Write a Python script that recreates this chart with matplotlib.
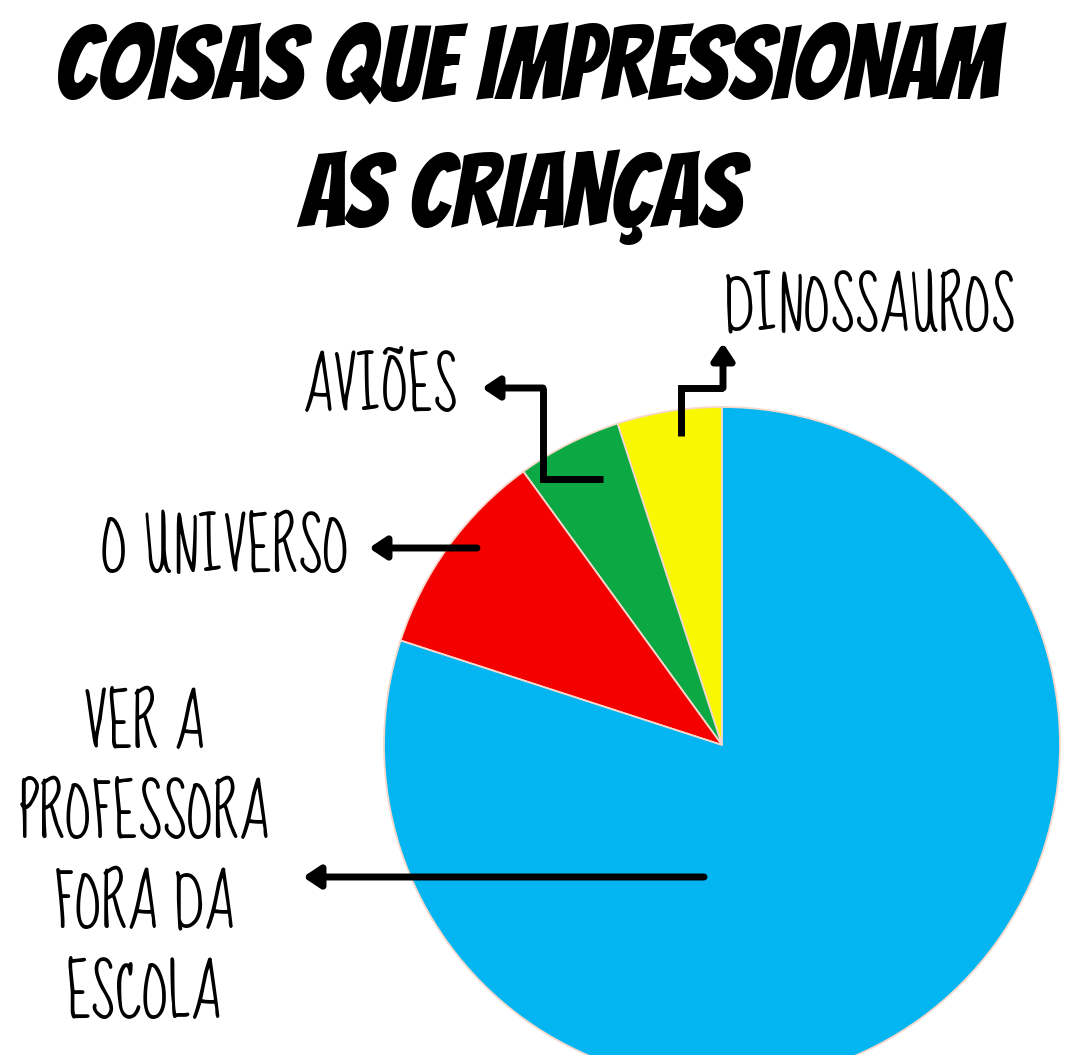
import matplotlib
matplotlib.use("Agg")
import matplotlib.pyplot as plt

# ---- data ----
title_lines = ["COISAS QUE IMPRESSIONAM", "AS CRIANÇAS"]
categories = ["DINOSSAUROS", "AVIÕES", "O UNIVERSO", "VER A\nPROFESSORA\nFORA DA\nESCOLA"]
values = [5, 5, 10, 80]
colors = ["#FAF800", "#0BA843", "#F50000", "#03B5F0"]

W, H = 1080, 1055
fig = plt.figure(figsize=(W / 100, H / 100), dpi=100)
ax = fig.add_axes([0, 0, 1, 1])
ax.set_xlim(0, W)
ax.set_ylim(0, H)
ax.set_aspect("equal")
ax.axis("off")

def Y(py):
    return H - py

TITLE_FONT = ["Bangers", "DejaVu Sans"]
LABEL_FONT = ["Sue Ellen Francisco", "DejaVu Sans"]

# pie
ax.pie(values, colors=colors, startangle=90, counterclock=True,
       center=(722, Y(745)), radius=338,
       wedgeprops=dict(edgecolor="#f6d9cc", linewidth=1.3))
ax.set_xlim(0, W)
ax.set_ylim(0, H)

renderer = fig.canvas.get_renderer()

def fit(t, target_w):
    bb = t.get_window_extent(renderer=renderer)
    t.set_fontsize(t.get_fontsize() * target_w / bb.width)

# title
t1 = ax.text(527, Y(100), title_lines[0], family=TITLE_FONT, fontsize=80,
             ha="center", va="baseline", color="black")
fit(t1, 1050)
t1.set_fontsize(t1.get_fontsize() * 0.9)
ax.text(520, Y(228), title_lines[1], family=TITLE_FONT, fontsize=t1.get_fontsize(),
        ha="center", va="baseline", color="black")

# labels
l0 = ax.text(870, Y(330), categories[0], family=LABEL_FONT, fontsize=50,
             ha="center", va="baseline")
fit(l0, 325)
l0.set_fontsize(l0.get_fontsize() * 0.9)
fs = l0.get_fontsize()
ax.text(458, Y(410), categories[1], family=LABEL_FONT, fontsize=fs, ha="right", va="baseline")
ax.text(349, Y(571), categories[2], family=LABEL_FONT, fontsize=fs, ha="right", va="baseline")

# multi-line label: one text per line, kept inside the figure
lines = categories[3].split("\n")
pitch = 90
base0 = 750
texts = []
for i, line in enumerate(lines):
    texts.append(ax.text(144, Y(base0 + i * pitch), line, family=LABEL_FONT, fontsize=fs,
                         ha="center", va="baseline"))
bb = texts[-1].get_window_extent(renderer=renderer)
overflow = 2 - bb.y0  # pixels below the bottom edge (display coords, y up)
if overflow > 0:
    for t in texts:
        x, y = t.get_position()
        t.set_position((x, y + overflow))

# connectors
lw = 5
def connector(points):
    xs = [p[0] for p in points[:-1]]
    ys = [Y(p[1]) for p in points[:-1]]
    ax.plot(xs, ys, color="black", lw=lw, solid_capstyle="butt", solid_joinstyle="miter")
    a, b = points[-2], points[-1]
    ax.annotate("", xy=(b[0], Y(b[1])), xytext=(a[0], Y(a[1])),
                arrowprops=dict(arrowstyle="-|>,head_length=0.45,head_width=0.3", color="black", lw=lw,
                                mutation_scale=22, shrinkA=0, shrinkB=0))

connector([(681, 436), (681, 388), (723, 388), (723, 343)])
connector([(603, 479), (543, 479), (543, 388), (482, 388)])
connector([(477, 548), (369, 548)])
connector([(704, 877), (303, 877)])

fig.savefig("out.png", dpi=100)
